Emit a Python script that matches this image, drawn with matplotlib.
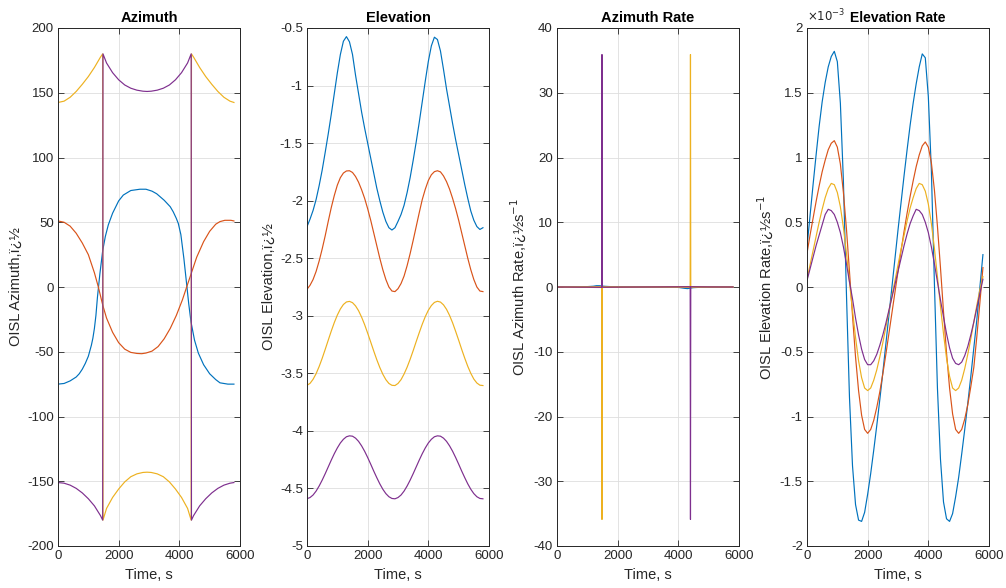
import matplotlib
matplotlib.use("Agg")
import matplotlib.pyplot as plt
from matplotlib.ticker import FormatStrFormatter

plt.rcParams["font.family"] = ["Liberation Sans", "DejaVu Sans"]
plt.rcParams["axes.unicode_minus"] = False

# MATLAB default line colours
C_BLUE = (0.0, 0.447, 0.741)
C_ORANGE = (0.850, 0.325, 0.098)
C_YELLOW = (0.929, 0.694, 0.125)
C_PURPLE = (0.494, 0.184, 0.556)

# sample times (s) used by the smooth series
t_100 = list(range(0, 5801, 100))

# ---- Azimuth, deg ----
t_az_blue = [0, 200, 400, 600, 700, 800, 900, 1000, 1100, 1150, 1200, 1250, 1300, 1380, 1473,
             1560, 1659, 1800, 2000, 2153, 2400, 2700, 2900, 3100, 3253, 3500, 3700, 3800,
             3900, 3967, 4050, 4150, 4242, 4310, 4385, 4500, 4626, 4800, 5000, 5200, 5340,
             5600, 5800]
az_blue = [-75, -74.5, -72.5, -69.5, -67, -63.5, -59, -53.5, -45, -39.5, -32, -22, -8, 10, 28,
           39, 48, 57, 66.5, 71, 74.5, 75.5, 75.5, 74, 72, 67, 62, 58,
           53, 49, 40.5, 22, 2, -13, -27, -41, -51, -60, -67, -71.5, -74,
           -75, -75]

t_az_orange = [0, 200, 400, 600, 800, 1000, 1200, 1330, 1475, 1600, 1800, 2000, 2200,
               2400, 2600, 2760, 2900, 3100, 3300, 3500, 3700, 3900, 4100, 4242, 4400,
               4572, 4800, 5000, 5200, 5340, 5500, 5700, 5800]
az_orange = [51, 50, 47, 41.5, 34, 25, 11, 0, -14, -24, -35, -43, -48,
             -50.5, -51.3, -51.5, -51, -49.5, -46, -40, -32, -22, -10, 0, 11,
             23, 35, 43, 48.5, 50.5, 51.5, 51.5, 51]

t_az_wrap = [0, 200, 400, 600, 800, 1000, 1200, 1400, 1473, 1483, 1600, 1800, 2000,
             2200, 2400, 2600, 2800, 2936, 3072, 3272, 3472, 3672, 3872, 4072, 4272,
             4390, 4400, 4470, 4670, 4870, 5070, 5270, 5470, 5670, 5800]
az_yellow = [142.5, 143.5, 146.5, 151, 156.5, 162.5, 169.5, 177.5, 180, -180, -171, -162.5, -156,
             -150.5, -146.5, -144.3, -143.2, -143, -143.2, -144.3, -146.5, -150.5, -156, -162.5, -171,
             -180, 180, 177.5, 169.5, 162.5, 156.5, 151, 146.5, 143.5, 142.5]
az_purple = [-151, -151.5, -153, -155.5, -159, -163.5, -169, -176.5, -180, 180, 173, 165.5, 160,
             156, 153.5, 152, 151.2, 151, 151.2, 152, 153.5, 156, 160, 165.5, 173,
             180, -180, -176.5, -169, -163.5, -159, -155.5, -153, -151.5, -151]

# ---- Elevation, deg (every 100 s) ----
el_blue = [-2.226, -2.16, -2.085, -1.99, -1.87, -1.735, -1.58, -1.42, -1.25, -1.07,
           -0.89, -0.73, -0.615, -0.575, -0.62, -0.73, -0.91, -1.07, -1.23, -1.37,
           -1.50, -1.63, -1.76, -1.89, -2.0, -2.10, -2.18, -2.235, -2.255, -2.235,
           -2.18, -2.12, -2.04, -1.93, -1.80, -1.65, -1.49, -1.32, -1.14, -0.96,
           -0.79, -0.655, -0.58, -0.60, -0.70, -0.86, -1.03, -1.18, -1.33, -1.47,
           -1.60, -1.73, -1.86, -1.98, -2.09, -2.17, -2.225, -2.25, -2.235]
el_orange = [-2.77, -2.735, -2.685, -2.615, -2.525, -2.42, -2.305, -2.18, -2.06, -1.955,
             -1.865, -1.80, -1.76, -1.742, -1.74, -1.755, -1.79, -1.84, -1.905, -1.98,
             -2.07, -2.17, -2.28, -2.39, -2.50, -2.60, -2.685, -2.75, -2.785, -2.79,
             -2.765, -2.72, -2.655, -2.565, -2.46, -2.345, -2.225, -2.105, -1.99, -1.90,
             -1.825, -1.775, -1.748, -1.74, -1.75, -1.785, -1.835, -1.90, -1.98, -2.07,
             -2.17, -2.28, -2.39, -2.50, -2.60, -2.685, -2.75, -2.785, -2.79]
el_yellow = [-3.604, -3.587, -3.552, -3.503, -3.441, -3.370, -3.292, -3.212, -3.133, -3.059,
             -2.994, -2.941, -2.902, -2.880, -2.875, -2.886, -2.914, -2.956, -3.012, -3.077,
             -3.151, -3.228, -3.306, -3.381, -3.449, -3.508, -3.555, -3.588, -3.604, -3.606,
             -3.588, -3.555, -3.506, -3.447, -3.378, -3.303, -3.224, -3.147, -3.073, -3.007,
             -2.952, -2.911, -2.884, -2.874, -2.881, -2.905, -2.944, -2.997, -3.061, -3.135,
             -3.212, -3.292, -3.368, -3.439, -3.500, -3.550, -3.584, -3.603, -3.606]
el_purple = [-4.589, -4.579, -4.557, -4.523, -4.479, -4.428, -4.372, -4.313, -4.254, -4.198,
             -4.148, -4.105, -4.073, -4.051, -4.043, -4.046, -4.063, -4.091, -4.130, -4.177,
             -4.231, -4.289, -4.349, -4.406, -4.460, -4.507, -4.545, -4.572, -4.587, -4.590,
             -4.579, -4.557, -4.523, -4.479, -4.428, -4.372, -4.313, -4.254, -4.198, -4.148,
             -4.105, -4.073, -4.051, -4.043, -4.046, -4.063, -4.091, -4.130, -4.177, -4.231,
             -4.289, -4.349, -4.406, -4.460, -4.507, -4.545, -4.572, -4.587, -4.590]

# ---- Azimuth rate, deg/s ----
t_azr = [0, 400, 800, 1000, 1200, 1300, 1400, 1473, 1483, 1493, 1600, 1800, 2200, 2800,
         3400, 3800, 4000, 4200, 4300, 4390, 4400, 4410, 4500, 4700, 5000, 5400, 5800]
azr_blue = [0.0, 0.01, 0.04, 0.06, 0.12, 0.2, 0.2, 0.16, 0.15, 0.14, 0.1, 0.05, 0.02, 0.0,
            -0.01, -0.03, -0.06, -0.2, -0.25, -0.18, -0.17, -0.16, -0.1, -0.05, -0.03, -0.01, 0.0]
azr_orange = [0.0, -0.02, -0.04, -0.05, -0.065, -0.07, -0.07, -0.07, -0.07, -0.07, -0.06, -0.045, -0.025, 0.0,
              0.025, 0.045, 0.055, 0.06, 0.065, 0.065, 0.065, 0.065, 0.06, 0.045, 0.02, 0.005, 0.0]
azr_yellow = [0.005, 0.01, 0.02, 0.025, 0.035, 0.04, 0.045, 0.05, -35.9, 0.02, 0.04, 0.025, 0.01, 0.0,
              -0.01, -0.02, -0.03, -0.04, -0.045, -0.05, 35.9, -0.05, -0.04, -0.03, -0.015, -0.005, 0.0]
azr_purple = [0.0, -0.005, -0.02, -0.02, -0.03, -0.035, -0.04, -0.045, 35.9, -0.02, -0.03, -0.02, -0.008, 0.0,
              0.008, 0.02, 0.02, 0.03, 0.035, 0.04, -35.9, 0.04, 0.03, 0.02, 0.01, 0.004, 0.0]

# ---- Elevation rate, x1e-3 deg/s (every 100 s) ----
elr_blue = [0.31, 0.55, 0.79, 1.02, 1.24, 1.43, 1.58, 1.70, 1.78, 1.82,
            1.74, 1.42, 0.82, -0.05, -0.85, -1.38, -1.68, -1.80, -1.81, -1.74,
            -1.60, -1.44, -1.26, -1.07, -0.87, -0.66, -0.44, -0.22, 0.0, 0.22,
            0.44, 0.65, 0.86, 1.06, 1.25, 1.42, 1.57, 1.70, 1.80, 1.77,
            1.47, 0.90, 0.03, -0.78, -1.33, -1.66, -1.79, -1.81, -1.75, -1.62,
            -1.47, -1.29, -1.10, -0.90, -0.69, -0.47, -0.25, 0.0, 0.25]
elr_orange = [0.26, 0.40, 0.53, 0.66, 0.78, 0.89, 0.98, 1.06, 1.11, 1.13,
              1.08, 0.95, 0.73, 0.45, 0.12, -0.22, -0.54, -0.80, -0.99, -1.10,
              -1.13, -1.10, -1.03, -0.93, -0.81, -0.67, -0.52, -0.36, -0.20, -0.04,
              0.12, 0.28, 0.43, 0.57, 0.70, 0.82, 0.93, 1.02, 1.09, 1.12,
              1.08, 0.96, 0.75, 0.47, 0.15, -0.19, -0.51, -0.78, -0.98, -1.10,
              -1.13, -1.10, -1.02, -0.91, -0.77, -0.62, -0.38, -0.12, 0.15]
elr_yellow = [0.06, 0.17, 0.28, 0.39, 0.50, 0.60, 0.69, 0.76, 0.80, 0.79,
              0.73, 0.62, 0.46, 0.26, 0.04, -0.18, -0.39, -0.57, -0.70, -0.78,
              -0.80, -0.78, -0.72, -0.64, -0.54, -0.43, -0.31, -0.19, -0.07, 0.05,
              0.17, 0.29, 0.40, 0.51, 0.61, 0.69, 0.76, 0.80, 0.79, 0.74,
              0.64, 0.49, 0.30, 0.08, -0.15, -0.36, -0.55, -0.69, -0.78, -0.80,
              -0.78, -0.72, -0.63, -0.52, -0.40, -0.27, -0.14, -0.02, 0.08]
elr_purple = [0.05, 0.14, 0.23, 0.32, 0.40, 0.48, 0.56, 0.60, 0.59, 0.56,
              0.50, 0.42, 0.31, 0.18, 0.04, -0.09, -0.24, -0.37, -0.48, -0.56,
              -0.60, -0.60, -0.57, -0.52, -0.45, -0.37, -0.28, -0.18, -0.08, 0.02,
              0.12, 0.22, 0.32, 0.41, 0.49, 0.55, 0.60, 0.59, 0.56, 0.50,
              0.42, 0.31, 0.18, 0.04, -0.10, -0.23, -0.36, -0.47, -0.55, -0.59,
              -0.60, -0.58, -0.53, -0.46, -0.37, -0.27, -0.16, -0.05, 0.06]


def style_axes(ax, ylim, yticks, title, ylabel):
    ax.set_xlim(0, 6000)
    ax.set_xticks([0, 2000, 4000, 6000])
    ax.set_ylim(*ylim)
    ax.set_yticks(yticks)
    ax.yaxis.set_major_formatter(FormatStrFormatter("%g"))
    ax.grid(True, color="#dedede", lw=0.6)
    ax.set_axisbelow(True)
    for sp in ax.spines.values():
        sp.set_color("#262626")
        sp.set_linewidth(0.7)
    ax.tick_params(direction="in", length=4, width=0.6, top=True, right=True,
                   labelsize=9.5, colors="#262626", pad=3)
    ax.set_title(title, fontsize=10.5, fontweight="bold", color="black", pad=4)
    ax.set_xlabel("Time, s", fontsize=10.5, color="#262626", labelpad=4)
    ax.set_ylabel(ylabel, fontsize=10.5, color="#262626", labelpad=3)


fig = plt.figure(figsize=(10.06, 5.88), dpi=100)
W, H = 1006, 588
lefts = [58, 307, 557, 807]
axes = [fig.add_axes([l / W, 42 / H, 182 / W, 518 / H]) for l in lefts]
lw = 0.85

ax = axes[0]
ax.plot(t_az_blue, az_blue, color=C_BLUE, lw=lw)
ax.plot(t_az_orange, az_orange, color=C_ORANGE, lw=lw)
ax.plot(t_az_wrap, az_yellow, color=C_YELLOW, lw=lw)
ax.plot(t_az_wrap, az_purple, color=C_PURPLE, lw=lw)
style_axes(ax, (-200, 200), range(-200, 201, 50), "Azimuth", "OISL Azimuth,ï¿½")

ax = axes[1]
ax.plot(t_100, el_blue, color=C_BLUE, lw=lw)
ax.plot(t_100, el_orange, color=C_ORANGE, lw=lw)
ax.plot(t_100, el_yellow, color=C_YELLOW, lw=lw)
ax.plot(t_100, el_purple, color=C_PURPLE, lw=lw)
style_axes(ax, (-5, -0.5), [-5, -4.5, -4, -3.5, -3, -2.5, -2, -1.5, -1, -0.5],
           "Elevation", "OISL Elevation,ï¿½")

ax = axes[2]
ax.plot(t_azr, azr_blue, color=C_BLUE, lw=lw)
ax.plot(t_azr, azr_orange, color=C_ORANGE, lw=lw)
ax.plot(t_azr, azr_yellow, color=C_YELLOW, lw=lw)
ax.plot(t_azr, azr_purple, color=C_PURPLE, lw=lw)
style_axes(ax, (-40, 40), range(-40, 41, 10), "Azimuth Rate",
           "OISL Azimuth Rate,ï¿½s$^{-1}$")

ax = axes[3]
ax.plot(t_100, elr_blue, color=C_BLUE, lw=lw)
ax.plot(t_100, elr_orange, color=C_ORANGE, lw=lw)
ax.plot(t_100, elr_yellow, color=C_YELLOW, lw=lw)
ax.plot(t_100, elr_purple, color=C_PURPLE, lw=lw)
style_axes(ax, (-2, 2), [-2, -1.5, -1, -0.5, 0, 0.5, 1, 1.5, 2], "Elevation Rate",
           "OISL Elevation Rate,ï¿½s$^{-1}$")
ax.set_title("Elevation Rate", fontsize=10, fontweight="bold", color="black", pad=4)
ax.text(0.0, 1.008, r"$\times10^{-3}$", transform=ax.transAxes, ha="left", va="bottom",
        fontsize=8.5, color="#262626")

fig.savefig("out.png", dpi=100)
